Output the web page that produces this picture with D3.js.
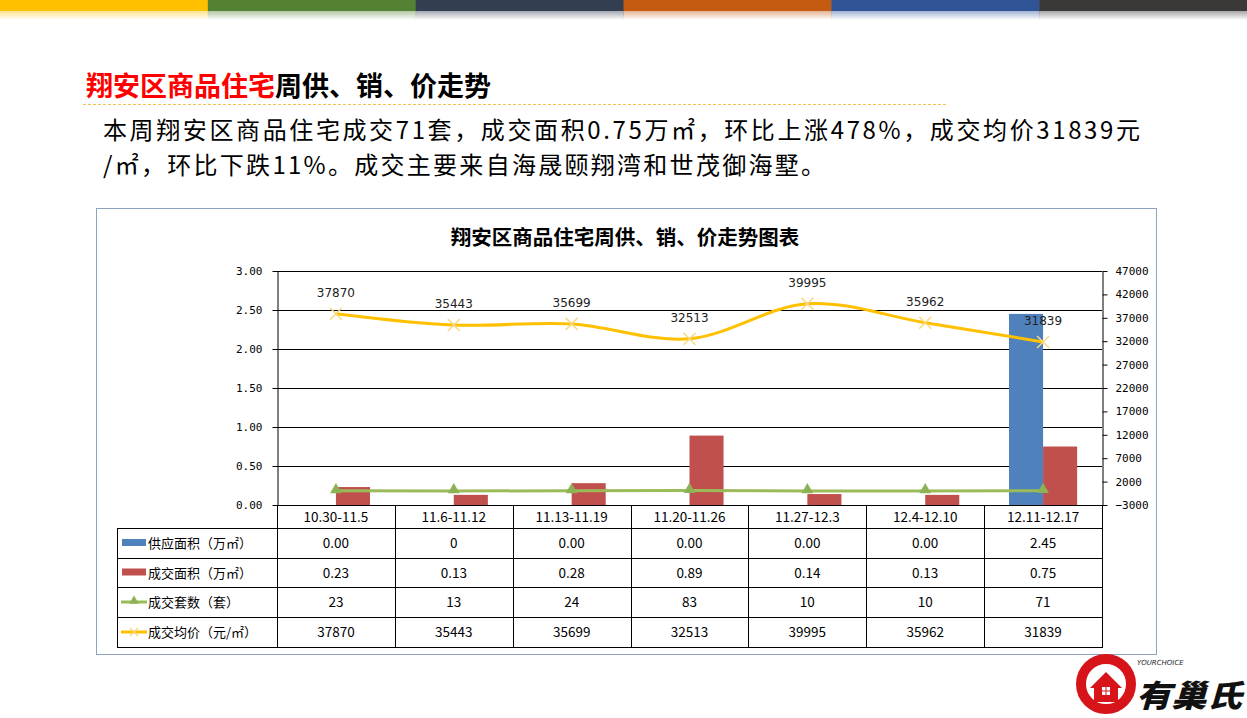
<!DOCTYPE html>
<html><head><meta charset="utf-8">
<script src="https://cdn.jsdelivr.net/npm/d3@7"></script>
<style>
html,body{margin:0;padding:0;background:#fff;}
svg{display:block;}
</style></head>
<body>
<svg id="c" width="1247" height="718"></svg>
<script>
// ---------- data ----------
const categories = ["10.30-11.5","11.6-11.12","11.13-11.19","11.20-11.26","11.27-12.3","12.4-12.10","12.11-12.17"];
const supplyArea = [0, 0, 0, 0, 0, 0, 2.45];          // 供应面积（万㎡）
const supplyText = ["0.00","0","0.00","0.00","0.00","0.00","2.45"];
const dealArea = [0.23, 0.13, 0.28, 0.89, 0.14, 0.13, 0.75]; // 成交面积（万㎡）
const dealUnits = [23, 13, 24, 83, 10, 10, 71];             // 成交套数（套）
const avgPrice = [37870, 35443, 35699, 32513, 39995, 35962, 31839]; // 成交均价（元/㎡）
const leftTicks = [0, 0.5, 1, 1.5, 2, 2.5, 3];
const rightTicks = [-3000, 2000, 7000, 12000, 17000, 22000, 27000, 32000, 37000, 42000, 47000];
const seriesNames = ["供应面积（万㎡）","成交面积（万㎡）","成交套数（套）","成交均价（元/㎡）"];
const topBarColors = ["#FFC000","#548235","#333F50","#C55A11","#2F5597","#3B3838"];

// ---------- setup ----------
const svg = d3.select("#c");
const W = 1247;
const C = {blue:"#4F81BD", red:"#C0504D", green:"#9BBB59", yellow:"#FFC000"};
const cjk = "'Noto Sans CJK SC','Noto Sans',sans-serif";
const mono = "'DejaVu Sans Mono',monospace";

// top colour bar
const defs = svg.append("defs");
const segW = W / topBarColors.length;
topBarColors.forEach((col, i) => {
  const g = defs.append("linearGradient").attr("id","fade"+i).attr("x1",0).attr("y1",0).attr("x2",0).attr("y2",1);
  g.append("stop").attr("offset","0").attr("stop-color",col).attr("stop-opacity",0.45);
  g.append("stop").attr("offset","1").attr("stop-color",col).attr("stop-opacity",0);
  svg.append("rect").attr("x", i*segW).attr("y",0).attr("width",segW+0.5).attr("height",11).attr("fill",col);
  svg.append("rect").attr("x", i*segW).attr("y",11).attr("width",segW+0.5).attr("height",9).attr("fill","url(#fade"+i+")");
});

// heading
const h = svg.append("text").attr("x",86).attr("y",96).attr("font-family",cjk).attr("font-weight",700).attr("font-size",27);
h.append("tspan").attr("fill","#FF0000").text("翔安区商品住宅");
h.append("tspan").attr("fill","#000").text("周供、销、价走势");
svg.append("line").attr("x1",83).attr("x2",948).attr("y1",104.5).attr("y2",104.5)
  .attr("stroke","#F2C14E").attr("stroke-width",1).attr("stroke-dasharray","3,2");

// subtitle
svg.append("text").attr("x",103).attr("y",139).attr("font-family",cjk).attr("font-size",24).attr("fill","#000")
  .attr("textLength",1037).attr("lengthAdjust","spacing")
  .text("本周翔安区商品住宅成交71套，成交面积0.75万㎡，环比上涨478%，成交均价31839元");
svg.append("text").attr("x",103).attr("y",174).attr("font-family",cjk).attr("font-size",24).attr("fill","#000")
  .attr("textLength",722).attr("lengthAdjust","spacing")
  .text("/㎡，环比下跌11%。成交主要来自海晟颐翔湾和世茂御海墅。");

// chart frame
svg.append("rect").attr("x",96.5).attr("y",208.5).attr("width",1060).attr("height",446)
  .attr("fill","#fff").attr("stroke","#8DA3BF").attr("stroke-width",1);
svg.append("text").attr("x",625).attr("y",245).attr("text-anchor","middle").attr("font-family",cjk)
  .attr("font-weight",700).attr("font-size",20.5).attr("fill","#000").text("翔安区商品住宅周供、销、价走势图表");

// scales
const X0 = 277, X1 = 1102, YT = 271, YB = 505;
const x = d3.scaleBand().domain(categories).range([X0, X1]).paddingInner(0).paddingOuter(0);
const xs = d3.scaleBand().domain(["s","d"]).range([0, x.bandwidth()]).paddingInner(0).paddingOuter(0.73);
const yL = d3.scaleLinear().domain([0, 3]).range([YB, YT]);
const yR = d3.scaleLinear().domain([-3000, 47000]).range([YB, YT]);
const cx = c => x(c) + x.bandwidth()/2;

// gridlines
svg.append("g").selectAll("line").data(leftTicks).join("line")
  .attr("x1",X0).attr("x2",X1).attr("y1",d=>Math.round(yL(d))+0.5).attr("y2",d=>Math.round(yL(d))+0.5)
  .attr("stroke","#000").attr("stroke-width",1);

// bars
const bars = svg.append("g");
bars.selectAll(".s").data(categories).join("rect")
  .attr("x",c=>x(c)+xs("s")).attr("width",xs.bandwidth())
  .attr("y",(c,i)=>yL(supplyArea[i])).attr("height",(c,i)=>YB-yL(supplyArea[i])).attr("fill",C.blue);
bars.selectAll(".d").data(categories).join("rect")
  .attr("x",c=>x(c)+xs("d")).attr("width",xs.bandwidth())
  .attr("y",(c,i)=>yL(dealArea[i])).attr("height",(c,i)=>YB-yL(dealArea[i])).attr("fill",C.red);

// axes
const axL = svg.append("g").attr("transform",`translate(${X0+0.5},0)`)
  .call(d3.axisLeft(yL).tickValues(leftTicks).tickFormat(d3.format(".2f")).tickSize(5).tickSizeOuter(0).tickPadding(10));
const axR = svg.append("g").attr("transform",`translate(${X1+0.5},0)`)
  .call(d3.axisRight(yR).tickValues(rightTicks).tickFormat(d3.format("d")).tickSize(5).tickSizeOuter(0).tickPadding(8));
[axL, axR].forEach(a => {
  a.selectAll("path,line").attr("stroke","#000");
  a.selectAll("text").attr("font-family",mono).attr("font-size",11).attr("fill","#000");
});

// green line (units)
const lineLin = d3.line().x((d,i)=>cx(categories[i])).y(d=>yR(d));
svg.append("path").datum(dealUnits).attr("d",lineLin).attr("fill","none").attr("stroke",C.green).attr("stroke-width",3);
const tri = d3.symbol().type(d3.symbolTriangle).size(60);
svg.append("g").selectAll("path").data(dealUnits).join("path")
  .attr("d",tri).attr("transform",(d,i)=>`translate(${cx(categories[i])},${yR(d)-1})`).attr("fill","#8DB255");

// yellow line (price)
const lineSm = d3.line().x((d,i)=>cx(categories[i])).y(d=>yR(d)).curve(d3.curveCatmullRom.alpha(0));
svg.append("path").datum(avgPrice).attr("d",lineSm).attr("fill","none").attr("stroke",C.yellow).attr("stroke-width",3);
svg.append("g").selectAll("g").data(avgPrice).join("g")
  .attr("transform",(d,i)=>`translate(${cx(categories[i])},${yR(d)})`)
  .each(function(){
    const g = d3.select(this);
    g.append("line").attr("x1",-6).attr("y1",-6).attr("x2",6).attr("y2",6).attr("stroke","#F8D980").attr("stroke-width",1.5);
    g.append("line").attr("x1",-6).attr("y1",6).attr("x2",6).attr("y2",-6).attr("stroke","#F8D980").attr("stroke-width",1.5);
  });
svg.append("g").selectAll("text").data(avgPrice).join("text")
  .attr("x",(d,i)=>cx(categories[i])).attr("y",d=>yR(d)-17).attr("text-anchor","middle")
  .attr("font-family","'DejaVu Sans',sans-serif").attr("font-size",12).attr("fill","#222").text(d=>d);

// data table
const T = svg.append("g");
const rowY = [505, 528, 558, 587, 617, 647];
const TL = 117;
const stroke = s => s.attr("stroke","#000").attr("stroke-width",1).attr("shape-rendering","crispEdges");
rowY.slice(1).forEach(yv => stroke(T.append("line").attr("x1",TL).attr("x2",X1+0.5).attr("y1",yv+0.5).attr("y2",yv+0.5)));
categories.forEach(c => stroke(T.append("line").attr("x1",x(c)+0.5).attr("x2",x(c)+0.5).attr("y1",YB).attr("y2",647.5)));
stroke(T.append("line").attr("x1",X1+0.5).attr("x2",X1+0.5).attr("y1",YB).attr("y2",647.5));
stroke(T.append("line").attr("x1",TL+0.5).attr("x2",TL+0.5).attr("y1",528).attr("y2",647.5));
T.selectAll(".hdr").data(categories).join("text")
  .attr("x",c=>cx(c)).attr("y",(rowY[0]+rowY[1])/2+5).attr("text-anchor","middle")
  .attr("font-family",cjk).attr("font-size",13.5).attr("fill","#000").text(c=>c);
const rows = [supplyText, dealArea.map(d3.format(".2f")), dealUnits.map(String), avgPrice.map(String)];
rows.forEach((vals, r) => {
  const ym = (rowY[r+1] + rowY[r+2]) / 2;
  T.append("g").selectAll("text").data(vals).join("text")
    .attr("x",(d,i)=>cx(categories[i])).attr("y",ym+5).attr("text-anchor","middle")
    .attr("font-family",cjk).attr("font-size",13.5).attr("fill","#000").text(d=>d);
  T.append("text").attr("x",148).attr("y",ym+5).attr("font-family",cjk).attr("font-size",13)
    .attr("fill","#000").text(seriesNames[r]);
});
const ky = r => (rowY[r+1] + rowY[r+2]) / 2;
T.append("rect").attr("x",122).attr("y",ky(0)-4).attr("width",24).attr("height",7).attr("fill",C.blue);
T.append("rect").attr("x",122).attr("y",ky(1)-4).attr("width",24).attr("height",7).attr("fill",C.red);
T.append("line").attr("x1",121).attr("x2",147).attr("y1",ky(2)).attr("y2",ky(2)).attr("stroke",C.green).attr("stroke-width",3);
T.append("path").attr("d",d3.symbol().type(d3.symbolTriangle).size(40)).attr("transform",`translate(134,${ky(2)-1})`).attr("fill","#8DB255");
T.append("line").attr("x1",121).attr("x2",147).attr("y1",ky(3)).attr("y2",ky(3)).attr("stroke",C.yellow).attr("stroke-width",3);
[[-4,-4,4,4],[-4,4,4,-4]].forEach(p => T.append("line").attr("x1",134+p[0]).attr("y1",ky(3)+p[1]).attr("x2",134+p[2]).attr("y2",ky(3)+p[3]).attr("stroke","#F8D980").attr("stroke-width",1.5));

// logo (decorative)
const L = svg.append("g");
L.append("circle").attr("cx",1106).attr("cy",684).attr("r",25).attr("fill","none").attr("stroke","#D7141A").attr("stroke-width",10);
L.append("path").attr("d","M1090,688 L1106,672 L1122,688 L1118,688 L1118,702 L1094,702 L1094,688 Z").attr("fill","#D7141A");
L.append("rect").attr("x",1102).attr("y",687).attr("width",8).attr("height",8).attr("fill","#fff");
L.append("line").attr("x1",1106).attr("x2",1106).attr("y1",687).attr("y2",695).attr("stroke","#D7141A").attr("stroke-width",1);
L.append("line").attr("x1",1102).attr("x2",1110).attr("y1",691).attr("y2",691).attr("stroke","#D7141A").attr("stroke-width",1);
L.append("text").attr("x",1137).attr("y",665).attr("font-family","'DejaVu Sans',sans-serif").attr("font-style","italic")
  .attr("font-size",7).attr("fill","#222").text("YOURCHOICE");
L.append("text").attr("x",1136).attr("y",707).attr("font-family",cjk).attr("font-weight",900).attr("font-style","italic")
  .attr("font-size",31).attr("fill","#111").attr("textLength",106).attr("lengthAdjust","spacingAndGlyphs").text("有巢氏");
</script>
</body></html>
